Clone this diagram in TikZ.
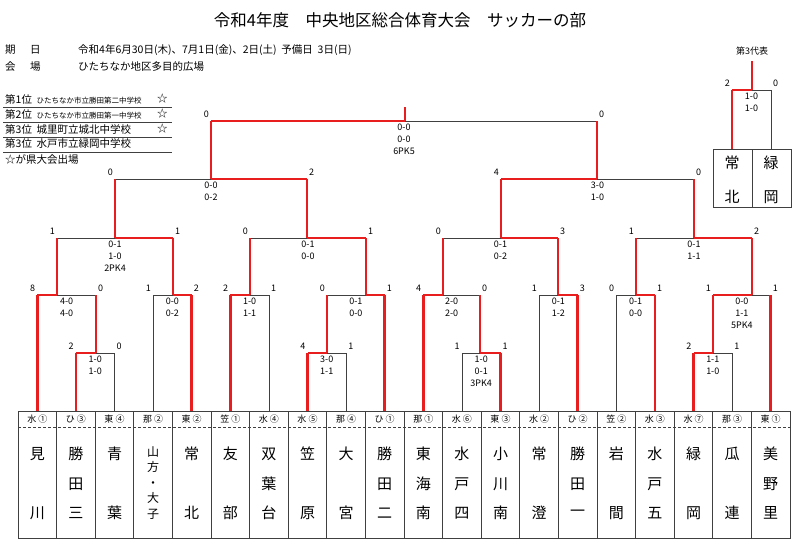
\documentclass[tikz,border=0pt]{standalone}
\usepackage{fontspec}
\setmainfont{Noto Sans CJK JP}
\usetikzlibrary{calc}
\definecolor{wred}{RGB}{232,30,30}
\tikzset{
  W/.style={draw=wred,line width=2.6pt},
  Ls/.style={draw=black!75,line width=0.7pt},
  sc/.style={font=\fontsize{9}{12}\selectfont,inner sep=1pt},
  res/.style={font=\fontsize{9}{12}\selectfont,align=center,inner sep=1pt,anchor=north},
  hdr/.style={font=\fontsize{9}{10}\selectfont,inner sep=0pt},
  tn/.style={font=\fontsize{15}{15}\selectfont,inner sep=0pt},
  txt/.style={font=\fontsize{10.5}{12}\selectfont,inner sep=0pt,anchor=west},
}
% #1 name, #2 left child, #3 right child, #4 y, #5 up x, #6 winner side L/R, #7 #8 scores, #9 results
\newcommand\bmatch[9]{%
  \coordinate (#1) at (#5,#4);
  \coordinate (#1L) at (#2 |- #1);
  \coordinate (#1R) at (#3 |- #1);
  \draw[Ls] (#1L) -- (#1R);
  \draw[W] (#1#6) -- (#1);
  \node[sc,anchor=south east] at ($(#1L)+(-1,-2)$) {#7};
  \node[sc,anchor=south west] at ($(#1R)+(1,-2)$) {#8};
  \node[res] at ($(#1L)!0.5!(#1R)+(0,2)$) {#9};
}
\begin{document}
\begin{tikzpicture}[x=1pt,y=-1pt]
\useasboundingbox (0,0) rectangle (800,549);
% title
\node[font=\fontsize{16.5}{16}\selectfont,inner sep=0pt] (title) at (400,20) {令和4年度\quad 中央地区総合体育大会\quad サッカーの部};
\node[txt] (k1) at (5,50) {期};
\node[txt] (k2) at (30,50) {日};
\node[txt] (k3) at (78,50) {令和4年6月30日(木)、7月1日(金)、2日(土)\ \ 予備日\ \ 3日(日)};
\node[txt] (k4) at (5,67) {会};
\node[txt] (k5) at (30,67) {場};
\node[txt] (k6) at (78,67) {ひたちなか地区多目的広場};
% ranking
\node[txt] (r1) at (5,99) {第1位\ \ {\fontsize{7.5}{8}\selectfont ひたちなか市立勝田第二中学校}};
\node[txt] (r2) at (5,114) {第2位\ \ {\fontsize{7.5}{8}\selectfont ひたちなか市立勝田第一中学校}};
\node[txt] (r3) at (5,129) {第3位\ \ 城里町立城北中学校};
\node[txt] (r4) at (5,144) {第3位\ \ 水戸市立緑岡中学校};
\node[txt] (r5) at (5,159) {☆が県大会出場};
\node[txt] (s1) at (157,99) {☆};
\node[txt] (s2) at (157,114) {☆};
\node[txt] (s3) at (157,129) {☆};
\foreach \yy in {107,122,137,152} \draw[Ls] (3,\yy) -- (172,\yy);
% team boxes
\draw[Ls] (18,411) rectangle (790,538);
\foreach \i in {1,...,19} \draw[Ls] ({18+38.6*\i},411) -- ({18+38.6*\i},538);
\draw[Ls,densely dashed] (18,427) -- (790,427);
\foreach \h/\a/\b/\c [count=\i from 0] in {水 ①/見//川,ひ ③/勝/田/三,東 ④/青//葉,那 ②///,東 ②/常//北,笠 ①/友//部,水 ④/双/葉/台,水 ⑤/笠//原,那 ④/大//宮,ひ ①/勝/田/二,那 ①/東/海/南,水 ⑥/水/戸/四,東 ③/小/川/南,水 ②/常//澄,ひ ②/勝/田/一,笠 ②/岩//間,水 ③/水/戸/五,水 ⑦/緑//岡,那 ③/瓜//連,東 ①/美/野/里}{
  \coordinate (t\i) at ({37.3+38.6*\i},411);
  \node[hdr] (h\i) at ({37.3+38.6*\i},419) {\h};
  \node[tn] (a\i) at ({37.3+38.6*\i},454) {\a};
  \node[tn] (b\i) at ({37.3+38.6*\i},484) {\b};
  \node[tn] (c\i) at ({37.3+38.6*\i},513) {\c};
}
\node[font=\fontsize{12}{15.5}\selectfont,align=center,inner sep=0pt] (yama) at (153.1,483) {山\\方\\・\\大\\子};
% bracket
\bmatch{mA}{t1}{t2}{353}{96}{L}{2}{0}{1-0\\1-0}
\bmatch{mB}{t0}{mA}{295}{57}{L}{8}{0}{4-0\\4-0}
\bmatch{mC}{t3}{t4}{295}{173}{R}{1}{2}{0-0\\0-2}
\bmatch{mD}{mB}{mC}{238}{115}{R}{1}{1}{0-1\\1-0\\2PK4}
\bmatch{mE}{t5}{t6}{295}{250}{L}{2}{1}{1-0\\1-1}
\bmatch{mF}{t7}{t8}{353}{327}{L}{4}{1}{3-0\\1-1}
\bmatch{mG}{mF}{t9}{295}{366}{R}{0}{1}{0-1\\0-0}
\bmatch{mH}{mE}{mG}{238}{307}{R}{0}{1}{0-1\\0-0}
\bmatch{mI}{mD}{mH}{179}{211}{R}{0}{2}{0-0\\0-2}
\bmatch{mK}{t11}{t12}{353}{480}{R}{1}{1}{1-0\\0-1\\3PK4}
\bmatch{mL}{t10}{mK}{295}{443}{L}{4}{0}{2-0\\2-0}
\bmatch{mM}{t13}{t14}{295}{558}{R}{1}{3}{0-1\\1-2}
\bmatch{mN}{mL}{mM}{238}{501}{R}{0}{3}{0-1\\0-2}
\bmatch{mO}{t15}{t16}{295}{636}{R}{0}{1}{0-1\\0-0}
\bmatch{mP}{t17}{t18}{353}{713}{L}{2}{1}{1-1\\1-0}
\bmatch{mQ}{mP}{t19}{295}{752}{L}{1}{1}{0-0\\1-1\\5PK4}
\bmatch{mR}{mO}{mQ}{238}{694}{R}{1}{2}{0-1\\1-1}
\bmatch{mS}{mN}{mR}{179}{597}{L}{4}{0}{3-0\\1-0}
\bmatch{mFin}{mI}{mS}{121}{405}{L}{0}{0}{0-0\\0-0\\6PK5}
\coordinate (champ) at (405,107);
\draw[W] (mFin) -- (champ);
% verticals: winners
\foreach \a/\b in {t1/mAL,t0/mBL,mA/mBR,t4/mCR,mB/mDL,mC/mDR,t5/mEL,t7/mFL,mF/mGL,t9/mGR,mE/mHL,mG/mHR,mD/mIL,mH/mIR,t12/mKR,t10/mLL,mK/mLR,t14/mMR,mL/mNL,mM/mNR,t16/mOR,t17/mPL,mP/mQL,t19/mQR,mO/mRL,mQ/mRR,mN/mSL,mR/mSR,mI/mFinL,mS/mFinR}
  \draw[W] (\a) -- (\b);
\foreach \a/\b in {t2/mAR,t3/mCL,t6/mER,t8/mFR,t11/mKL,t13/mML,t15/mOL,t18/mPR}
  \draw[Ls] (\a) -- (\b);
% third place
\draw[Ls] (713,149) rectangle (791,207);
\draw[Ls] (752,149) -- (752,207);
\coordinate (u0) at (732,149);
\coordinate (u1) at (771,149);
\node[tn] (ua) at (732,163) {常};
\node[tn] (ub) at (732,197) {北};
\node[tn] (uc) at (771,163) {緑};
\node[tn] (ud) at (771,197) {岡};
\bmatch{mT}{u0}{u1}{90}{752}{L}{2}{0}{1-0\\1-0}
\draw[W] (u0) -- (mTL);
\draw[Ls] (u1) -- (mTR);
\coordinate (third) at (752,61);
\draw[W] (mT) -- (third);
\node[hdr] (thirdlbl) at (752,51) {第3代表};
\end{tikzpicture}
\end{document}
